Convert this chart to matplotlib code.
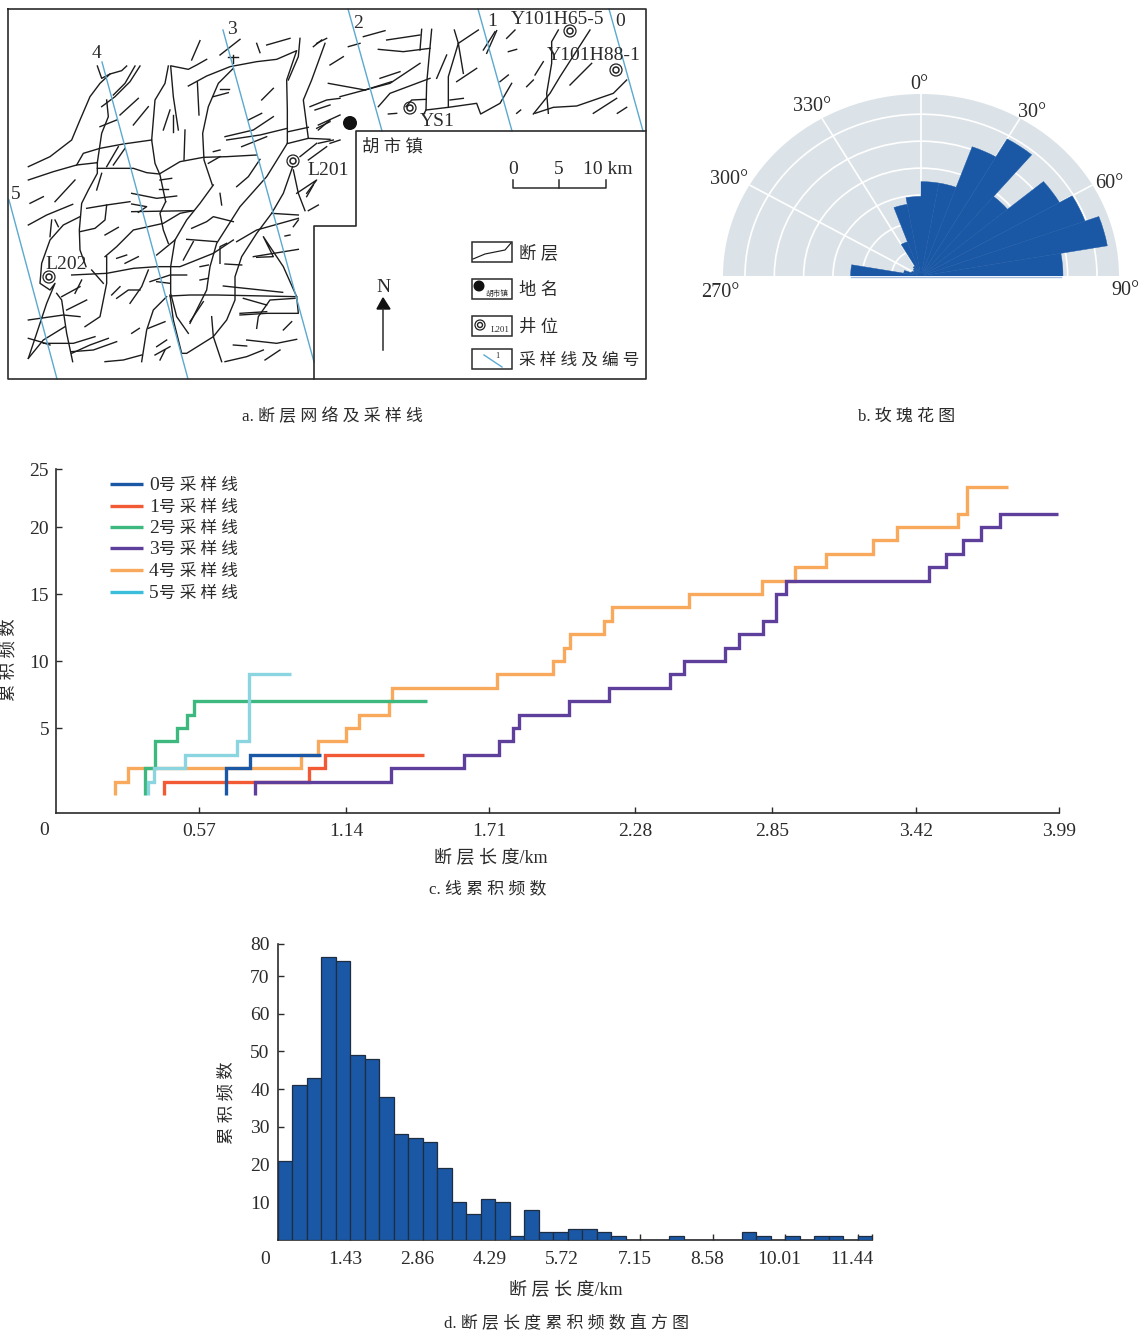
import numpy as np
import matplotlib
matplotlib.use("Agg")
import matplotlib.pyplot as plt
from matplotlib.patches import Polygon, Rectangle, Circle
from matplotlib.transforms import ScaledTranslation

W, H = 1144, 1337
FONT = ['Liberation Serif', 'Noto Sans CJK SC']
INK = '#2b2b2b'
plt.rcParams['font.family'] = FONT
plt.rcParams['font.size'] = 12.5

# a: faults, traced in 3x zoom coordinates (left part and right part of the map)
faults_left = [
    [(292,198),(305,235),(330,222),(365,212),(380,198)],
    [(420,198),(390,245),(345,290),(305,320)],
    [(405,198),(375,250),(340,285)],
    [(85,500),(150,470),(215,420),(240,360),(270,290),(300,250),(330,222)],
    [(85,540),(160,515),(230,495),(292,488)],
    [(230,495),(250,460),(300,445),(370,432),(455,420)],
    [(505,198),(495,250),(465,300),(455,420),(465,490),(480,525),(497,605)],
    [(512,198),(520,290),(535,390)],
    [(515,198),(565,208),(590,195),(620,178)],
    [(565,258),(620,228),(690,200),(770,185),(830,178),(890,152),(860,240),(862,330),(862,430)],
    [(900,115),(895,170),(865,240)],
    [(700,205),(655,250),(625,320),(608,400),(612,480),(637,555)],
    [(292,505),(400,505),(440,518),(478,522),(540,485),(610,472),(680,470),(770,465)],
    [(292,488),(292,520),(265,570),(245,610),(238,690),(240,750),(258,800)],
    [(320,300),(325,350),(305,400),(292,488)],
    [(862,430),(800,530),(720,620),(650,730),(630,800),(620,870),(570,970)],
    [(640,555),(600,610),(560,660),(525,720),(512,800),(512,880),(530,950),(565,1000)],
    [(497,605),(480,640),(490,690),(505,730)],
    [(85,675),(140,645),(218,613)],
    [(240,650),(190,675),(150,720),(125,790),(120,850),(150,870),(165,850),(140,910),(85,1075)],
    [(170,880),(185,900),(200,1000),(218,1085)],
    [(215,825),(320,820),(400,805),(470,800),(540,800),(640,760),(700,720)],
    [(320,770),(320,850),(300,950),(255,980)],
    [(260,625),(320,615),(390,605)],
    [(320,615),(315,660),(285,685),(240,695)],
    [(315,770),(350,740),(400,690),(490,670),(540,640),(580,632)],
    [(395,635),(575,632)],
    [(510,888),(570,885),(650,885),(890,890),(895,940),(800,940),(720,945)],
    [(890,890),(850,800),(790,710),(820,770),(770,772)],
    [(815,640),(895,645)],
    [(865,430),(925,415),(990,418)],
    [(865,395),(925,382)],
    [(925,415),(910,300),(935,240),(975,130)],
    [(878,500),(850,580),(815,640),(770,700),(725,770),(705,830),(705,900),(680,960),(640,1010),(560,1060),(545,1060),(520,960),(510,885)],
    [(500,890),(460,930),(440,990),(425,1085)],
    [(635,950),(640,1010),(665,1085)],
    [(880,510),(895,580),(915,632)],
    [(925,632),(955,615)],
    [(890,580),(950,540),(920,580)],
    [(130,1030),(220,1030),(285,1010)],
    [(85,960),(190,945),(240,950)],
    [(85,1015),(120,1025),(150,1035)],
    [(85,1075),(130,1020),(195,980)],
    [(215,1060),(270,1035),(325,1015)],
    [(215,1055),(280,1050),(350,1025)],
    [(315,1085),(370,1080),(425,1065)],
    [(675,1085),(740,1070),(790,1050)],
    [(795,1080),(840,1050)],
    [(740,1020),(830,1030),(890,1018)],
    [(700,1035),(740,1038)],
    [(770,985),(775,950),(810,900),(885,895)],
    [(730,895),(800,915)],
    [(720,940),(800,935)],
    [(670,858),(848,877)],
    [(675,792),(725,795)],
    [(710,725),(770,690),(895,655)],
    [(760,770),(895,748)],
    [(660,790),(660,740),(680,730)],
    [(675,410),(760,390),(820,350)],
    [(680,420),(780,405),(862,385)],
    [(725,440),(800,410)],
    [(745,360),(785,340)],
    [(640,290),(685,278)],
    [(660,268),(688,268)],
    [(660,165),(720,118)],
    [(685,170),(715,170)],
    [(575,180),(600,122)],
    [(592,245),(597,345)],
    [(555,390),(552,480)],
    [(490,390),(510,330)],
    [(520,345),(520,395)],
    [(770,130),(780,158)],
    [(800,135),(870,115)],
    [(785,300),(820,265)],
    [(700,165),(700,190)],
    [(90,610),(130,590)],
    [(165,605),(225,540)],
    [(150,710),(155,660)],
    [(175,680),(165,660)],
    [(290,570),(305,520)],
    [(320,500),(355,440)],
    [(340,495),(375,445)],
    [(400,375),(445,320)],
    [(360,345),(415,295)],
    [(300,380),(350,360)],
    [(395,580),(470,595),(530,588)],
    [(395,612),(440,620),(415,637)],
    [(480,540),(515,535)],
    [(478,568),(505,568)],
    [(640,455),(660,450)],
    [(625,490),(660,470)],
    [(710,560),(745,530),(780,478)],
    [(660,580),(665,615)],
    [(575,685),(620,665),(640,650),(700,665)],
    [(560,718),(650,725)],
    [(470,765),(525,720)],
    [(450,845),(510,825),(560,825)],
    [(470,845),(510,850)],
    [(350,775),(380,765)],
    [(375,790),(415,770)],
    [(315,705),(355,682)],
    [(335,885),(360,860)],
    [(350,895),(385,870),(420,870)],
    [(390,910),(425,860),(445,810)],
    [(275,810),(310,850)],
    [(185,890),(240,860)],
    [(200,930),(260,900)],
    [(225,880),(245,840)],
    [(850,990),(875,965)],
    [(395,1000),(418,985)],
    [(445,985),(495,965)],
    [(470,1040),(500,1020)],
    [(465,1065),(510,1040)],
    [(480,1080),(495,1050)],
    [(570,965),(610,905)],
    [(550,780),(580,725)],
    [(600,800),(625,795)],
    [(600,840),(625,835)],
    [(855,708),(870,705)],
    [(880,680),(895,660)],
    [(940,555),(920,590)],
    [(900,470),(950,430)],
    [(925,480),(980,440)],
    [(945,330),(990,315)],
    [(950,385),(990,365)],
    [(940,140),(965,120)],
]
faults_right = [
    [(-30,320),(20,300),(60,295)],
    [(25,250),(135,270)],
    [(175,320),(210,280),(330,235)],
    [(135,270),(215,245)],
    [(60,290),(210,250),(300,190)],
    [(180,235),(240,215)],
    [(175,148),(250,155),(330,145)],
    [(200,120),(300,105)],
    [(130,110),(195,92)],
    [(85,140),(120,130)],
    [(30,195),(70,170)],
    [(305,88),(300,150)],
    [(335,88),(320,250),(318,330),(310,345)],
    [(318,330),(385,322),(470,310),(482,342),(540,310),(575,250)],
    [(385,322),(385,230),(415,130),(430,220)],
    [(403,90),(415,130)],
    [(415,130),(475,90)],
    [(350,235),(380,165)],
    [(410,245),(440,225),(470,205)],
    [(500,160),(530,92)],
    [(490,150),(525,95)],
    [(560,115),(585,90)],
    [(565,155),(590,148)],
    [(540,245),(565,225)],
    [(620,260),(640,240)],
    [(645,225),(670,185)],
    [(640,342),(690,280),(720,230),(810,90)],
    [(685,340),(680,280),(695,190),(695,125),(715,90)],
    [(645,340),(700,322),(770,318),(880,280),(920,240)],
    [(750,255),(815,190)],
    [(820,340),(890,295)],
    [(892,340),(920,322)],
    [(590,340),(602,330)],
    [(390,300),(430,295)],
    [(205,342),(230,340)],
    [(258,320),(275,300),(318,298)],
    [(-5,390),(30,360)],
    [(-5,375),(60,345)],
    [(-5,430),(40,420)],
    [(30,430),(60,420)],
    [(-10,130),(20,115)],
]

# sampling lines, in picture pixels
sample_x0 = [609, 478, 348, 223, 102, 9]
sample_y0 = [9, 9, 9, 30, 62, 200]
sample_x1 = [643, 512, 382, 314, 188, 57]
sample_y1 = [131, 131, 131, 362, 379, 379]
well_x = [570, 616, 410, 293, 49]
well_y = [31, 70, 108, 161, 277]

# b: rose diagram, 10 degree bins from 270 round to 90
rose_start = [-90, -80, -70, -60, -50, -40, -30, -20, -10, 0, 10, 20, 30, 40, 50, 60, 70, 80]
rose_len = [2.4, 0.6, 0.35, 0.3, 0.35, 0.42, 1.35, 2.7, 2.95, 3.5, 3.5, 5.1, 5.87, 3.85, 5.45, 5.95, 6.45, 4.84]

# c: cumulative frequency steps per sampling line
line0_x = [0.677, 0.677, 0.772, 1.056]
line0_y = [0, 2, 3, 3]
line1_x = [0.431, 0.431, 1.006, 1.070, 1.462]
line1_y = [0, 1, 2, 3, 3]
line2_x = [0.353, 0.353, 0.393, 0.483, 0.520, 0.549, 1.476]
line2_y = [0, 2, 4, 5, 6, 7, 7]
line3_x = [0.793, 0.793, 1.333, 1.624, 1.762, 1.819, 1.841, 2.039, 2.198, 2.444, 2.499, 2.661, 2.718,
           2.813, 2.863, 2.905, 3.474, 3.540, 3.607, 3.679, 3.755, 3.988]
line3_y = [0, 1, 2, 3, 4, 5, 6, 7, 8, 9, 10, 11, 12, 13, 15, 16, 17, 18, 19, 20, 21, 21]
line4_x = [0.236, 0.236, 0.286, 0.975, 1.043, 1.155, 1.205, 1.326, 1.336, 1.755, 1.979, 2.022, 2.046,
           2.179, 2.212, 2.520, 2.809, 2.938, 3.063, 3.252, 3.346, 3.589, 3.625, 3.789]
line4_y = [0, 1, 2, 3, 4, 5, 6, 7, 8, 9, 10, 11, 12, 13, 14, 15, 16, 17, 18, 19, 20, 21, 23, 23]
line5_x = [0.364, 0.364, 0.388, 0.515, 0.722, 0.766, 0.935]
line5_y = [0, 1, 2, 3, 4, 9, 9]
c_xticks = [0.569, 1.154, 1.723, 2.303, 2.848, 3.421, 3.99]
c_xlabels = ['0.57', '1.14', '1.71', '2.28', '2.85', '3.42', '3.99']
c_yticks = [5, 10, 15, 20, 24.33]
c_ylabels = ['5', '10', '15', '20', '25']

# d: histogram
hist_counts = [21, 41, 43, 75, 74, 49, 48, 38, 28, 27, 26, 19, 10, 7, 11, 10, 1, 8, 2, 2, 3, 3, 2, 1,
               0, 0, 0, 1, 0, 0, 0, 0, 2, 1, 0, 1, 0, 1, 1, 0, 1]
bin_width = 0.286
d_xticks = [1.43, 2.86, 4.29, 5.72, 7.15, 8.58, 10.01, 11.44, 11.726]
d_xlabels = ['1.43', '2.86', '4.29', '5.72', '7.15', '8.58', '10.01', '11.44', '']
d_yticks = [10, 20, 30, 40, 50, 60, 70, 78.5]
d_ylabels = ['10', '20', '30', '40', '50', '60', '70', '80']

BLUE = '#1a58a6'
LINE_COLORS = ['#1a58a6', '#f15a35', '#3db980', '#5f3f9c', '#f9a95b', '#8ad5e0']
LEGEND_COLORS = ['#1a58a6', '#f15a35', '#3db980', '#5f3f9c', '#f9a95b', '#3bbedb']


def px_rect(left, top, right, bottom):
    return [left / W, 1 - bottom / H, (right - left) / W, (bottom - top) / H]


def style_axes(ax):
    ax.spines['top'].set_visible(False)
    ax.spines['right'].set_visible(False)
    for side in ['left', 'bottom']:
        ax.spines[side].set_linewidth(1.2)
        ax.spines[side].set_color(INK)
    ax.tick_params(direction='in', length=4.5, width=1, color=INK, labelcolor=INK, labelsize=14)
    ax.tick_params(axis='x', pad=7)
    ax.tick_params(axis='y', pad=5)


fig = plt.figure(figsize=(W / 100, H / 100), dpi=100)

# rose: the half circle sits in the middle half of the axes box
rose = fig.add_axes(px_rect(723, 3, 1119, 367), polar=True)
rose.set_theta_zero_location('N')
rose.set_theta_direction(-1)
rose.set_thetamin(-90)
rose.set_thetamax(90)
rose.set_aspect('auto')
rose.set_facecolor('#dce3e8')
rose.set_rlim(0, 6.75)
rose.set_rgrids([1, 2, 3, 4, 5, 6], labels=[''] * 6)
rose.set_thetagrids([-60, -30, 0, 30, 60], labels=[''] * 5)
rose.grid(color='white', linewidth=1.2)
for spine in rose.spines.values():
    spine.set_linewidth(0)
rose.bar(np.radians(rose_start), rose_len, width=np.radians(10), align='edge', color=BLUE,
         edgecolor=BLUE, linewidth=0.3, zorder=3)

# line frequency
ax_c = fig.add_axes(px_rect(56, 469, 1059, 813))
ax_c.set_xlim(0, 3.99)
ax_c.set_ylim(-1.34, 24.33)
style_axes(ax_c)
series = [(line1_x, line1_y, 1), (line4_x, line4_y, 4), (line3_x, line3_y, 3),
          (line0_x, line0_y, 0), (line2_x, line2_y, 2), (line5_x, line5_y, 5)]
for xs, ys, k in series:
    ax_c.plot(xs, ys, drawstyle='steps-post', color=LINE_COLORS[k], linewidth=2.4,
              solid_joinstyle='miter', solid_capstyle='butt')
ax_c.set_xticks(c_xticks)
ax_c.set_xticklabels(c_xlabels)
ax_c.set_yticks(c_yticks)
ax_c.set_yticklabels(c_ylabels)

# histogram
ax_d = fig.add_axes(px_rect(278, 944, 872, 1240))
ax_d.set_xlim(0, 11.726)
ax_d.set_ylim(0, 78.5)
style_axes(ax_d)
ax_d.tick_params(axis='y', pad=6)
ax_d.tick_params(axis='x', pad=8)
hist_left = np.arange(len(hist_counts)) * bin_width
ax_d.bar(hist_left, hist_counts, width=bin_width, align='edge', color=BLUE, edgecolor='#1f2d40', linewidth=0.9, zorder=3)
ax_d.set_xticks(d_xticks)
ax_d.set_xticklabels(d_xlabels)
ax_d.set_yticks(d_yticks)
ax_d.set_yticklabels(d_ylabels)
# the reference prints these labels a little left of their ticks
for tl in ax_d.get_xticklabels():
    tl.set_transform(tl.get_transform() + ScaledTranslation(-4 / 72, 0, fig.dpi_scale_trans))

# everything else is placed in picture pixels on a transparent overlay
over = fig.add_axes([0, 0, 1, 1], zorder=5)
over.set_xlim(0, W)
over.set_ylim(H, 0)
over.axis('off')


def label(x, y, s, size=12.5, ha='center', **kw):
    if kw.get('rotation'):
        x += 2
    else:
        y += 1.5
    over.text(x, y, s, fontsize=size, ha=ha, va='center', color=INK, **kw)


for pts in faults_left:
    arr = np.array(pts) / 3
    over.plot(arr[:, 0], arr[:, 1], color='#1c1c1c', linewidth=1.0)
for pts in faults_right:
    arr = np.array(pts) / 3 + [320, 0]
    over.plot(arr[:, 0], arr[:, 1], color='#1c1c1c', linewidth=1.0)

for x0, y0, x1, y1 in zip(sample_x0, sample_y0, sample_x1, sample_y1):
    over.plot([x0, x1], [y0, y1], color='#5ba9d0', linewidth=1.0)

# map outline with the cut-out corner
over.plot([8, 646, 646, 356, 356, 314, 314, 8, 8], [9, 9, 131, 131, 226, 226, 379, 379, 9], color=INK, linewidth=1.2)
over.plot([646, 646, 314], [131, 379, 379], color=INK, linewidth=1.2)

for x, y in zip(well_x, well_y):
    over.add_patch(Circle((x, y), 6, facecolor='white', edgecolor='#222222', linewidth=0.9))
    over.add_patch(Circle((x, y), 3, facecolor='white', edgecolor='#222222', linewidth=1.1))
over.add_patch(Circle((350, 123), 6.3, color='#111111'))

for x, y, s in [(16, 193, '5'), (96, 52, '4'), (232, 28, '3'), (358, 22, '2'), (492, 20, '1'), (620, 20, '0'),
                (558, 18, 'Y101H65-5'), (594, 54, 'Y101H88-1'), (437, 120, 'YS1'), (328, 169, 'L201'),
                (66, 263, 'L202'), (513, 168, '0'), (559, 168, '5'), (608, 168, '10 km')]:
    label(x, y, s, size=14)
label(392, 146, '胡 市 镇')

# scale bar
over.plot([513, 513, 606, 606], [180, 188, 188, 180], color=INK, linewidth=1.1)
over.plot([559, 559], [180, 188], color=INK, linewidth=1.1)

# north arrow
over.plot([383, 383], [309, 350], color=INK, linewidth=1.1)
over.add_patch(Polygon([(383, 298), (377, 309), (390, 309)], color='#111111'))
label(383, 286, 'N', size=14)

# map legend
for top in [242, 279, 316, 349]:
    over.add_patch(Rectangle((472, top), 40, 20, facecolor='white', edgecolor=INK, linewidth=1.1))
over.plot([473, 485, 500, 505, 511], [259, 254, 251, 250, 243], color='#1c1c1c', linewidth=0.85)
over.add_patch(Circle((479, 286), 4.8, color='#111111'))
label(497, 292, '胡市镇', size=5.5)
over.add_patch(Circle((480, 325), 5, facecolor='white', edgecolor='#222222', linewidth=0.9))
over.add_patch(Circle((480, 325), 2.5, facecolor='white', edgecolor='#222222', linewidth=1))
label(500, 328, 'L201', size=6.5)
over.plot([484, 502], [355, 367], color='#5ba9d0', linewidth=1.0)
label(497, 355, '1', size=6)
label(519, 253, '断 层', ha='left')
label(519, 290, '地 名', ha='left')
label(519, 326, '井 位', ha='left')
label(519, 359, '采 样 线 及 编 号', ha='left', size=12)

# rose labels
for x, y, s in [(720, 291, '270°'), (729, 178, '300°'), (812, 105, '330°'), (919, 83, '0°'),
                (1032, 111, '30°'), (1109, 182, '60°'), (1125, 289, '90°')]:
    label(x, y, s, size=14.5)
over.plot([851, 1061], [276.5, 276.5], color='#a6bfe0', linewidth=1.0)

# captions
label(332, 415, 'a. 断 层 网 络 及 采 样 线', size=12.2)
label(907, 415, 'b. 玫 瑰 花 图', size=12.2)
label(488, 888, 'c. 线 累 积 频 数', size=12.2)
label(567, 1322, 'd. 断 层 长 度 累 积 频 数 直 方 图', size=12.2)

# panel c extras
for i, y in enumerate([484, 506, 527, 548, 570, 592]):
    over.plot([110, 143], [y, y], color=LEGEND_COLORS[i], linewidth=2.4, solid_capstyle='butt')
    label(149, y, str(i), size=14, ha='left')
    label(159, y, '号 采 样 线', size=12, ha='left')
label(491, 857, '断 层 长 度/km', size=13)
label(44, 829, '0', size=14)
label(7, 660, '累 积 频 数', rotation=90)

# panel d extras
label(566, 1289, '断 层 长 度/km', size=13)
label(265, 1258, '0', size=14)
label(225, 1103, '累 积 频 数', rotation=90)

fig.savefig('out.png', dpi=100)
